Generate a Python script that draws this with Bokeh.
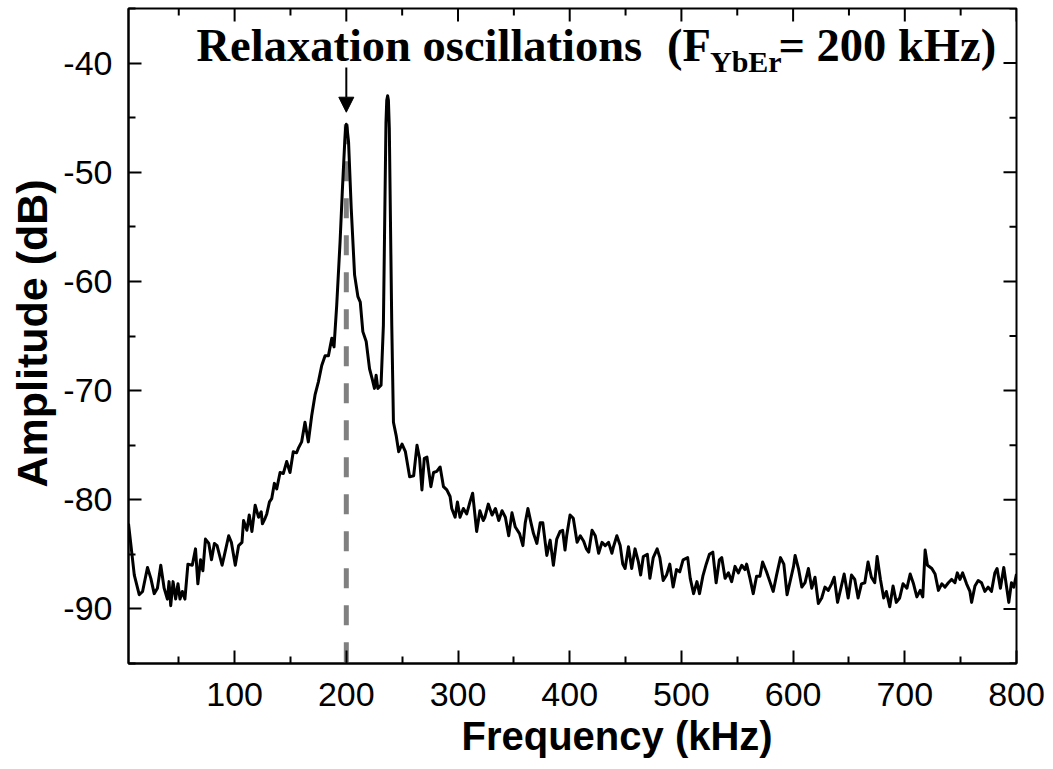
from bokeh.plotting import figure
from bokeh.models import (ColumnDataSource, FixedTicker, Range1d, Label, Arrow, NormalHead, Title)
from bokeh.embed import file_html
from bokeh.resources import INLINE
import numpy as np

# ---------------- data ----------------
freq_khz = [
    5.0, 7.0, 10.2, 14.6, 17.6, 22.0, 25.0, 28.0, 30.9, 33.9, 36.9, 39.8, 41.3, 42.8,
    44.9, 47.2, 49.3, 51.1, 53.2, 55.5, 58.2, 62.1, 65.0, 67.1, 69.5, 71.6, 73.9, 76.9,
    79.3, 81.9, 84.3, 88.8, 90.8, 94.7, 97.1, 100.6, 103.6, 106.6, 108.0, 111.0, 113.1,
    115.5, 118.4, 121.4, 123.8, 124.9, 127.3, 128.8, 131.2, 133.2, 135.6, 137.7, 140.7,
    143.6, 146.6, 149.6,
    152.5, 155.5, 157.0, 160.0, 163.0, 166.0, 169.0, 172.0, 175.0, 178.0, 181.0, 184.0,
    187.0, 189.0, 191.4, 194.4, 196.4, 198.6, 199.4, 200.0, 200.6, 202.0, 204.4, 207.4,
    210.4, 212.5, 214.8, 217.8, 220.8, 223.1, 225.2, 226.7, 228.2, 231.1, 233.2, 234.7,
    235.5, 236.2, 237.0, 237.7, 238.5, 239.2, 240.7, 242.2, 244.6, 246.9, 249.9,
    252.9, 256.7, 260.3, 263.3, 265.6, 267.7, 269.8, 272.2, 275.7, 278.1, 281.0, 284.0,
    287.0, 290.0, 292.9, 294.4, 297.4, 299.5, 301.8, 304.8, 307.8, 310.7, 313.1, 316.7,
    319.6, 322.6, 324.1, 327.1, 330.5, 333.5, 336.5, 339.4, 342.4, 345.4, 348.3, 351.3,
    355.1, 358.1, 360.2, 362.6, 365.3, 367.6, 370.6, 373.6, 375.9, 379.5, 382.5, 385.4,
    388.4, 391.4, 393.7, 395.8, 397.3, 400.3, 403.2,
    406.6, 409.5, 412.5, 414.9, 417.0, 420.0, 422.9, 425.9, 428.9, 431.8, 434.8, 437.8,
    439.2, 442.2, 445.2, 447.5, 449.6, 452.6, 455.5, 458.5, 461.5, 463.5, 465.9, 469.5,
    471.8, 474.8, 478.3, 480.7, 483.7, 486.7, 489.6, 492.6, 495.6, 498.5, 501.5, 505.6,
    507.9, 510.9, 513.9, 516.2, 519.2, 522.2, 525.1, 528.1, 531.1, 534.0, 536.1, 539.1,
    542.1, 545.0, 548.0, 551.0, 554.0, 556.9, 558.4, 561.4, 564.3, 567.3, 570.3, 572.7,
    576.2, 579.2, 582.2, 585.2, 588.7, 591.7, 594.6,
    600.4, 601.8, 604.8, 607.8, 610.7, 613.7, 616.7, 619.6, 622.6, 625.6, 628.5, 631.5,
    634.5, 636.8, 639.8, 642.8, 645.7, 649.3, 652.3, 655.2, 658.2, 661.2, 664.2, 667.1,
    670.1, 673.1, 675.2, 678.2, 681.1, 683.5, 686.5, 689.5, 692.4, 695.4, 698.4, 701.9,
    704.8, 707.8, 710.8, 713.8, 716.1, 718.2, 720.3, 724.2, 727.1, 730.1, 733.1, 736.0,
    739.0, 742.0, 744.9, 747.0, 749.4, 751.8, 755.3, 758.3, 759.8, 762.8, 765.7, 768.7,
    771.7, 774.6, 777.6, 780.6, 782.6, 785.6, 788.6, 791.0, 793.1, 795.5, 797.6, 800.0,
]
amp_db = [
    -82.2, -84.0, -86.9, -88.7, -88.4, -86.2, -87.2, -88.6, -88.1, -86.0, -88.1, -89.1, -87.5, -89.7,
    -87.5, -89.1, -87.7, -89.1, -88.4, -89.1, -85.9, -86.0, -84.5, -87.7, -85.5, -86.5, -83.6, -84.0,
    -85.5, -84.0, -84.2, -86.0, -85.1, -83.3, -83.9, -86.0, -84.2, -83.9, -81.9, -82.8, -81.4,
    -82.9, -80.5, -81.6, -81.1, -82.2, -81.7, -81.3, -80.2, -79.9, -78.5, -79.0, -77.5,
    -77.6, -76.5, -77.5,
    -75.6, -75.7, -75.3, -74.7, -72.9, -74.7, -72.3, -70.4, -69.2, -67.7, -66.8, -66.8,
    -65.2, -66.0, -62.2, -56.4, -51.8, -47.2, -45.9, -45.6, -45.9, -47.2, -53.3, -59.4,
    -61.4, -61.9, -64.6, -65.5, -68.0, -68.9, -69.8, -68.6, -69.8, -69.5, -64.0, -51.8,
    -45.5, -43.4, -43.0, -43.4, -46.0, -51.8, -64.0, -72.9, -74.1, -75.6, -74.9,
    -75.6, -77.9, -77.8, -75.0, -76.2, -79.1, -76.2, -76.1, -78.8, -77.5, -77.4, -77.0,
    -78.8, -79.1, -79.7, -80.8, -81.6, -80.2, -81.6, -80.8, -81.3, -80.2, -79.4, -82.9,
    -81.0, -81.9, -81.6, -80.4, -81.4, -80.8, -81.9, -81.0, -81.6, -83.3, -81.2, -82.5,
    -83.1, -84.2, -82.1, -80.8, -82.1, -83.1, -84.0, -82.1, -82.1, -85.1, -83.7, -86.0,
    -83.6, -82.9, -82.8, -84.6, -83.3, -81.4, -81.7,
    -83.9, -83.3, -83.8, -84.5, -84.8, -82.8, -83.3, -84.9, -83.9, -84.2, -83.9, -84.9,
    -84.3, -83.3, -84.2, -85.9, -86.3, -84.3, -86.3, -84.5, -85.7, -86.9, -85.2, -85.0,
    -87.2, -85.3, -84.5, -85.3, -87.4, -86.9, -85.9, -88.0, -86.4, -86.6, -85.5, -85.3,
    -87.2, -88.6, -87.5, -88.6, -87.0, -85.9, -85.0, -84.8, -87.6, -85.5, -85.3, -87.2,
    -86.7, -87.5, -86.1, -86.7, -86.0, -86.4, -85.9, -87.2, -88.6, -87.0, -87.0, -85.7,
    -86.6, -87.5, -88.4, -86.9, -85.3, -85.9, -88.7,
    -86.1, -85.1, -86.3, -88.0, -87.6, -86.3, -88.1, -87.1, -89.5, -89.0, -88.0, -88.3,
    -87.7, -87.1, -89.4, -88.1, -86.8, -89.0, -86.9, -87.3, -89.0, -87.7, -87.6, -85.7,
    -87.1, -87.6, -85.2, -87.3, -89.0, -88.4, -89.8, -87.9, -89.4, -89.0, -87.7, -88.1,
    -86.8, -87.7, -88.9, -88.3, -88.9, -84.6, -86.0, -86.3, -86.8, -88.3, -87.7, -88.0,
    -87.6, -87.3, -87.6, -86.7, -87.3, -86.7, -87.7, -88.4, -89.4, -87.9, -87.4, -87.6,
    -88.4, -88.0, -88.4, -86.7, -86.3, -88.1, -86.2, -87.9, -89.4, -87.6, -88.0, -86.8,
]

x_ticks = [100, 200, 300, 400, 500, 600, 700, 800]
x_tick_labels = ["100", "200", "300", "400", "500", "600", "700", "800"]
x_minor_ticks = [50, 150, 250, 350, 450, 550, 650, 750]
y_ticks = [-90, -80, -70, -60, -50, -40]
y_tick_labels = ["-90", "-80", "-70", "-60", "-50", "-40"]
y_minor_ticks = [-95, -85, -75, -65, -55, -45, -35]

x_label = "Frequency (kHz)"
y_label = "Amplitude (dB)"
relax_freq = 200.0
annotation_main = "Relaxation oscillations"
annotation_paren = "(F"
annotation_sub = "YbEr"
annotation_tail = "= 200 kHz)"

X0, X1 = 5, 800
Y0, Y1 = -95, -35
FW, FH = 888, 655

# ---------------- figure ----------------
p = figure(frame_width=FW, frame_height=FH,
           x_range=Range1d(X0, X1), y_range=Range1d(Y0, Y1),
           output_backend="svg", toolbar_location=None,
           min_border_left=128, min_border_right=35,
           min_border_top=8, min_border_bottom=98)
p.grid.visible = False
p.outline_line_color = "black"
p.outline_line_width = 2
p.background_fill_color = "white"
p.border_fill_color = "white"

def style_axis(ax):
    ax.axis_line_width = 2
    ax.axis_line_color = "black"
    ax.major_tick_line_width = 2
    ax.minor_tick_line_width = 2
    ax.major_tick_in = 13
    ax.major_tick_out = 0
    ax.minor_tick_in = 7
    ax.minor_tick_out = 0
    ax.major_label_text_font = "Liberation Sans"
    ax.major_label_text_font_size = "34px"
    ax.major_label_text_color = "black"
    ax.axis_label = None

xa = p.xaxis[0]
xa.ticker = FixedTicker(ticks=x_ticks, minor_ticks=x_minor_ticks)
xa.major_label_overrides = {t: s for t, s in zip(x_ticks, x_tick_labels)}
style_axis(xa)
xa.major_label_standoff = 19

ya = p.yaxis[0]
ya.ticker = FixedTicker(ticks=y_ticks, minor_ticks=y_minor_ticks)
ya.major_label_overrides = {t: s for t, s in zip(y_ticks, y_tick_labels)}
style_axis(ya)
ya.major_label_standoff = 16

# axis titles, placed off-centre as in the reference
p.add_layout(Title(text=x_label, align="left", offset=333, standoff=6,
                   text_font="Liberation Sans", text_font_style="bold",
                   text_font_size="40px", text_color="black"), "below")
p.add_layout(Title(text=y_label, align="left", offset=176, standoff=9,
                   text_font="Liberation Sans", text_font_style="bold",
                   text_font_size="43px", text_color="black"), "left")

# mirrored inward ticks on top and right edges (lengths in px converted to data units)
px_x = (X1 - X0) / FW
px_y = (Y1 - Y0) / FH
p.segment(x0=x_ticks, y0=[Y1] * len(x_ticks), x1=x_ticks, y1=[Y1 - 13 * px_y] * len(x_ticks),
          line_color="black", line_width=2)
p.segment(x0=x_minor_ticks, y0=[Y1] * len(x_minor_ticks), x1=x_minor_ticks,
          y1=[Y1 - 7 * px_y] * len(x_minor_ticks), line_color="black", line_width=2)
p.segment(x0=[X1] * len(y_ticks), y0=y_ticks, x1=[X1 - 13 * px_x] * len(y_ticks), y1=y_ticks,
          line_color="black", line_width=2)
p.segment(x0=[X1] * len(y_minor_ticks), y0=y_minor_ticks, x1=[X1 - 7 * px_x] * len(y_minor_ticks),
          y1=y_minor_ticks, line_color="black", line_width=2)

src = ColumnDataSource(data=dict(f=freq_khz, a=amp_db))

peak_db = float(np.interp(relax_freq, freq_khz, amp_db))
p.line(x=[relax_freq, relax_freq], y=[peak_db, Y0], line_color="#808080",
       line_width=5, line_dash="20 17")

p.line("f", "a", source=src, line_color="black", line_width=3, line_join="round")

p.add_layout(Arrow(end=NormalHead(size=15, fill_color="black", line_color="black",
                                  line_width=1),
                   x_start=relax_freq, y_start=-40.4, x_end=relax_freq, y_end=-44.5,
                   line_color="black", line_width=2))

serif = "Liberation Serif"
for txt, xx, yy, sz in [(annotation_main, 65.9, -38.42, "46.5px"),
                        (annotation_paren, 487.1, -38.42, "46.5px"),
                        (annotation_sub, 525.6, -39.85, "30px"),
                        (annotation_tail, 586.9, -38.42, "46.5px")]:
    p.add_layout(Label(x=xx, y=yy, text=txt, text_font=serif, text_font_style="bold",
                       text_font_size=sz, text_baseline="middle", text_align="left",
                       text_color="black"))

open("out.html", "w").write(file_html(p, INLINE))
